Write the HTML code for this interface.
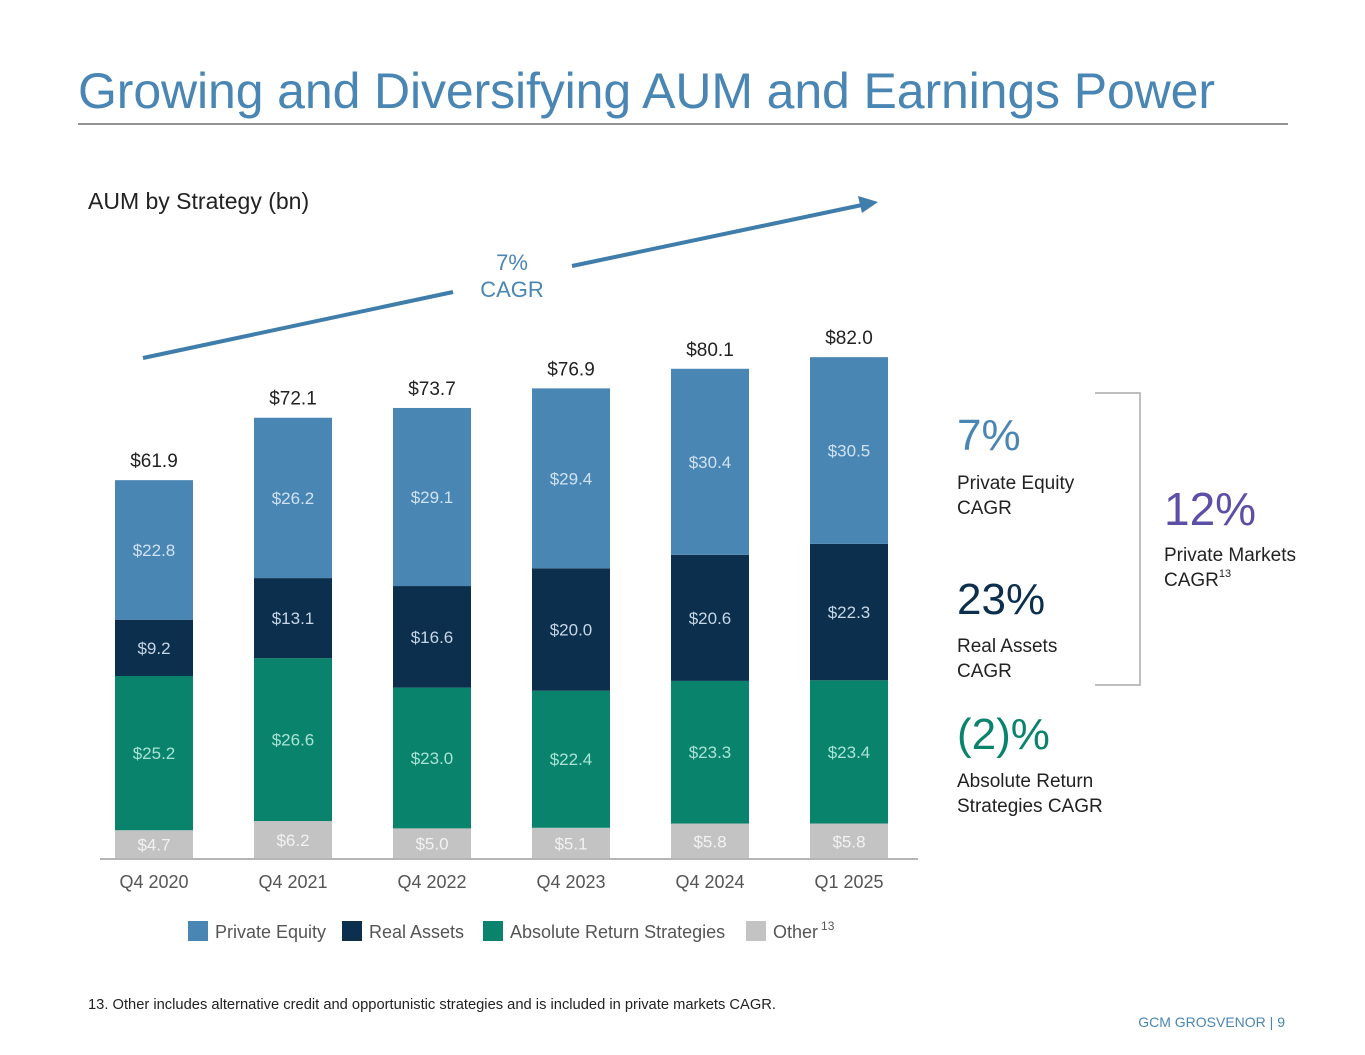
<!DOCTYPE html>
<html><head><meta charset="utf-8"><style>
body{margin:0;background:#fff;}
svg{display:block;font-family:"Liberation Sans",sans-serif;}
</style></head><body>
<svg width="1365" height="1055" viewBox="0 0 1365 1055">
<text x="78" y="108" font-size="50" textLength="1137" lengthAdjust="spacing" fill="#4a86b4">Growing and Diversifying AUM and Earnings Power</text>
<line x1="78" y1="124" x2="1288" y2="124" stroke="#555" stroke-width="1.2"/>
<text x="88" y="209" font-size="23" fill="#222">AUM by Strategy (bn)</text>
<g>
<line x1="143" y1="358" x2="453" y2="292" stroke="#3f7dab" stroke-width="4"/>
<line x1="572" y1="266" x2="862" y2="205" stroke="#3f7dab" stroke-width="4"/>
<polygon points="878,202 858,196 862,213" fill="#3f7dab"/>
</g>
<text x="512" y="270" font-size="22" fill="#4a86b4" text-anchor="middle">7%</text>
<text x="512" y="297" font-size="22" fill="#4a86b4" text-anchor="middle">CAGR</text>
<g id="chart"></g>
<line x1="100" y1="859" x2="918" y2="859" stroke="#b5b5b5" stroke-width="2"/>
<g font-size="18" fill="#555">
<rect x="188" y="921" width="20" height="20" fill="#4a86b4"/><text x="215" y="938">Private Equity</text>
<rect x="342" y="921" width="20" height="20" fill="#0c2f4e"/><text x="369" y="938">Real Assets</text>
<rect x="483" y="921" width="20" height="20" fill="#0a836c"/><text x="510" y="938">Absolute Return Strategies</text>
<rect x="746" y="921" width="20" height="20" fill="#c3c3c3"/><text x="773" y="938">Other<tspan font-size="12" dy="-8" dx="3">13</tspan></text>
</g>
<g>
<text x="957" y="450" font-size="44" fill="#4a86b4">7%</text>
<text x="957" y="489" font-size="19" fill="#222">Private Equity</text>
<text x="957" y="514" font-size="19" fill="#222">CAGR</text>
<text x="957" y="614" font-size="44" fill="#0c2f4e">23%</text>
<text x="957" y="652" font-size="19" fill="#222">Real Assets</text>
<text x="957" y="677" font-size="19" fill="#222">CAGR</text>
<text x="957" y="749" font-size="44" fill="#0a836c">(2)%</text>
<text x="957" y="787" font-size="19" fill="#222">Absolute Return</text>
<text x="957" y="812" font-size="19" fill="#222">Strategies CAGR</text>
<polyline points="1095,393 1140,393 1140,685 1095,685" fill="none" stroke="#aaa" stroke-width="1.5"/>
<text x="1164" y="525" font-size="46" fill="#5b4fa8">12%</text>
<text x="1164" y="561" font-size="19" fill="#222">Private Markets</text>
<text x="1164" y="586" font-size="19" fill="#222">CAGR<tspan font-size="11" dy="-9">13</tspan></text>
</g>
<text x="88" y="1009" font-size="14.6" textLength="688" lengthAdjust="spacingAndGlyphs" fill="#222">13. Other includes alternative credit and opportunistic strategies and is included in private markets CAGR.</text>
<text x="1285" y="1027" font-size="14" fill="#4a86b4" text-anchor="end">GCM GROSVENOR | 9</text>
</svg>
<script>
const categories=["Q4 2020","Q4 2021","Q4 2022","Q4 2023","Q4 2024","Q1 2025"];
const other=[4.7,6.2,5.0,5.1,5.8,5.8];
const ars=[25.2,26.6,23.0,22.4,23.3,23.4];
const realAssets=[9.2,13.1,16.6,20.0,20.6,22.3];
const privateEquity=[22.8,26.2,29.1,29.4,30.4,30.5];
const totals=["$61.9","$72.1","$73.7","$76.9","$80.1","$82.0"];
const base=859,scale=6.12,x0=115,step=139,bw=78;
const y=v=>base-v*scale;
const xAt=i=>x0+i*step;
const NS="http://www.w3.org/2000/svg";
const g=document.getElementById('chart');
const series=[
 {name:'other',vals:other,fill:'#c3c3c3',tc:'#f2f2f2'},
 {name:'ars',vals:ars,fill:'#0a836c',tc:'#a9e3d6'},
 {name:'real-assets',vals:realAssets,fill:'#0c2f4e',tc:'#c6d6e6'},
 {name:'private-equity',vals:privateEquity,fill:'#4a86b4',tc:'#cfe2f2'}];
categories.forEach((c,i)=>{
 let cum=0;
 series.forEach(s=>{
  const v=s.vals[i];
  const r=document.createElementNS(NS,'rect');
  r.setAttribute('x',xAt(i));r.setAttribute('y',y(cum+v));
  r.setAttribute('width',bw);r.setAttribute('height',v*scale);
  r.setAttribute('fill',s.fill);
  
  
  g.appendChild(r);
  const t=document.createElementNS(NS,'text');
  t.setAttribute('x',xAt(i)+bw/2);t.setAttribute('y',y(cum+v/2)+6);
  t.setAttribute('text-anchor','middle');t.setAttribute('font-size','17');
  t.setAttribute('fill',s.tc);
  t.textContent='$'+v.toFixed(1);
  
  
  g.appendChild(t);
  cum+=v;
 });
 const tt=document.createElementNS(NS,'text');
 tt.setAttribute('x',xAt(i)+bw/2);tt.setAttribute('y',y(cum)-13);
 tt.setAttribute('text-anchor','middle');tt.setAttribute('font-size','19');tt.setAttribute('fill','#222');
 tt.textContent=totals[i];
 
 
 g.appendChild(tt);
 const xl=document.createElementNS(NS,'text');
 xl.setAttribute('x',xAt(i)+bw/2);xl.setAttribute('y',888);
 xl.setAttribute('text-anchor','middle');xl.setAttribute('font-size','18');xl.setAttribute('fill','#555');
 xl.textContent=c;
 
 
 g.appendChild(xl);
});
</script>
</body></html>
